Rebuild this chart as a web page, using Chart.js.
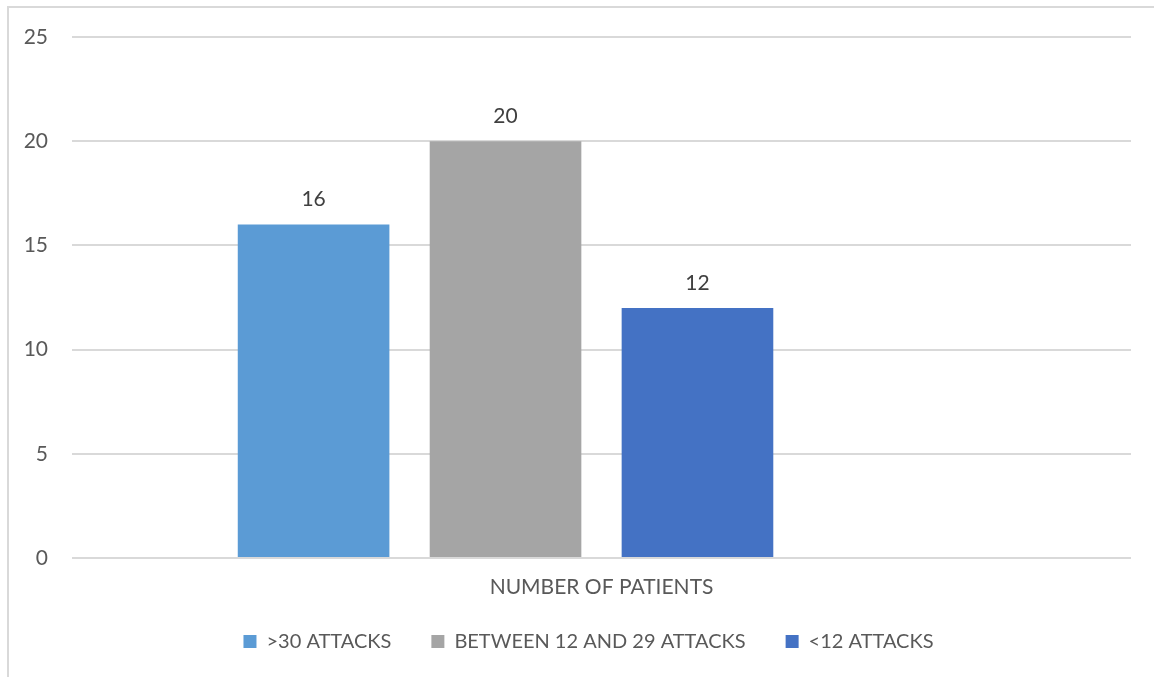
<!DOCTYPE html>
<html lang="en">
<head>
<meta charset="UTF-8">
<title>Number of patients by attack frequency</title>
<style>
  html, body { margin: 0; padding: 0; background: #fff; }
  #wrap { position: relative; width: 1154px; height: 677px; overflow: hidden; }
  #frame {
    position: absolute; left: 7px; top: 6px; width: 1170px; height: 700px;
    border: 2px solid #d9d9d9; box-sizing: border-box; pointer-events: none;
  }
  canvas { position: absolute; left: 0; top: 0; }
</style>
</head>
<body>
<div id="wrap">
  <canvas id="chart" width="1154" height="677"></canvas>
  <div id="frame"></div>
</div>

<script src="https://cdn.jsdelivr.net/npm/chart.js"></script>
<script>
  const categories = ['NUMBER OF PATIENTS'];
  const seriesNames = ['>30 ATTACKS', 'BETWEEN 12 AND 29 ATTACKS', '<12 ATTACKS', ''];
  const seriesValues = [[16], [20], [12], [null]];   // last series is empty in the source sheet
  const seriesColors = ['#5B9BD5', '#A5A5A5', '#4472C4', '#FFC000'];
  const yTicks = [0, 5, 10, 15, 20, 25];

  const FONT = 'Lato, "Open Sans", sans-serif';
  const TEXT = '#595959';
  const SIZE = 21;

  // value labels above each bar
  const barValues = {
    id: 'barValues',
    afterDatasetsDraw(chart) {
      const ctx = chart.ctx;
      ctx.save();
      ctx.font = SIZE + 'px ' + FONT;
      ctx.fillStyle = '#404040';
      ctx.textAlign = 'center';
      ctx.textBaseline = 'middle';
      chart.data.datasets.forEach((ds, i) => {
        chart.getDatasetMeta(i).data.forEach((bar, j) => {
          const v = ds.data[j];
          if (v == null) return;
          ctx.fillText(String(v), bar.x, bar.y - 25);
        });
      });
      ctx.restore();
    }
  };

  // legend padding is large for the horizontal gaps; pull the box back up a little
  const legendNudge = {
    id: 'legendNudge',
    afterLayout(chart) {
      const lg = chart.legend;
      lg.top -= 9.5; lg.bottom -= 9.5;
      lg.left += 19; lg.right += 19;
    }
  };

  new Chart(document.getElementById('chart'), {
    type: 'bar',
    data: {
      labels: categories,
      datasets: seriesNames.map((name, i) => ({
        label: name,
        data: seriesValues[i],
        backgroundColor: seriesColors[i],
        categoryPercentage: 0.725,
        barPercentage: 0.79
      }))
    },
    options: {
      responsive: false,
      animation: false,
      layout: { padding: { left: 8, right: 23, top: 37, bottom: 6 } },
      scales: {
        x: {
          grid: { display: false, drawTicks: false },
          border: { display: false },
          ticks: { color: TEXT, font: { family: FONT, size: SIZE }, padding: 17 },
          afterFit(scale) { scale.height = 43; }
        },
        y: {
          min: 0,
          max: 25,
          afterBuildTicks(scale) { scale.ticks = yTicks.map(v => ({ value: v })); },
          grid: { color: '#d9d9d9', lineWidth: 2, drawTicks: false },
          border: { display: false },
          ticks: { color: TEXT, font: { family: FONT, size: SIZE }, padding: 24 },
          afterFit(scale) { scale.width = 64; }
        }
      },
      plugins: {
        legend: {
          position: 'bottom',
          maxHeight: 77,
          labels: {
            color: TEXT,
            font: { family: FONT, size: 20 },
            boxWidth: 13,
            boxHeight: 13,
            padding: 40,
            filter: item => item.text !== ''
          }
        },
        tooltip: { enabled: false }
      }
    },
    plugins: [barValues, legendNudge]
  });
</script>
</body>
</html>
